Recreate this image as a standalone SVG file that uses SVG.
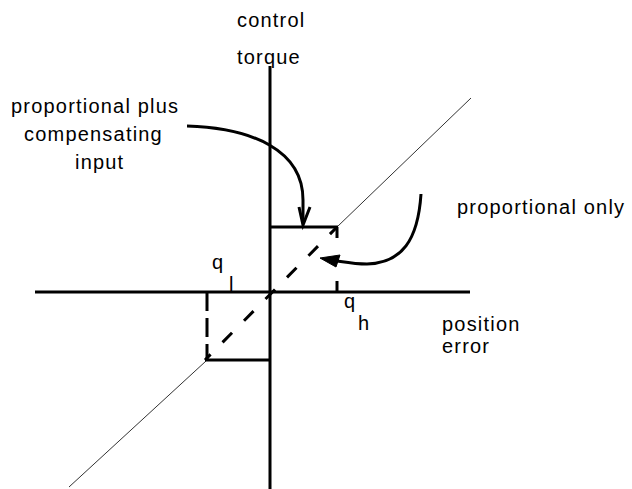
<svg xmlns="http://www.w3.org/2000/svg" width="632" height="489" viewBox="0 0 632 489">
<style>
.t{font-family:"Liberation Sans",Arial,sans-serif;font-size:20px;letter-spacing:1.2px;fill:#000}
.thick{stroke:#000;stroke-width:3;fill:none}
.thin{stroke:#333;stroke-width:1;fill:none}
</style>
<rect width="632" height="489" fill="#fff"/>
<g id="axes">
<line class="thick" x1="270" y1="66" x2="270" y2="489"/>
<line class="thick" x1="35" y1="292" x2="470" y2="292"/>
</g>
<g id="proportional-line">
<line class="thin" x1="337" y1="227" x2="471" y2="98"/>
<line class="thin" x1="206" y1="361" x2="69" y2="487"/>
<line class="thick" x1="337" y1="227" x2="205" y2="360" stroke-dasharray="13.5 17" stroke-dashoffset="3.5"/>
</g>
<g id="compensating-box">
<line class="thick" x1="270" y1="227" x2="338" y2="227"/>
<line class="thick" x1="337" y1="227" x2="337" y2="238"/>
<line class="thick" x1="337" y1="281" x2="337" y2="292"/>
<line class="thick" x1="205" y1="360" x2="270" y2="360"/>
<line class="thick" x1="207" y1="292" x2="207" y2="360" stroke-dasharray="19 7"/>
</g>
<g id="labels">
<text class="t" x="237" y="27">control</text>
<text class="t" x="237" y="64">torque</text>
<text class="t" x="11" y="113">proportional plus</text>
<text class="t" x="24" y="141">compensating</text>
<text class="t" x="75" y="169">input</text>
<text class="t" x="457" y="214">proportional only</text>
<text class="t" x="442" y="331">position</text>
<text class="t" x="442" y="353">error</text>
<text class="t" x="212" y="269">q</text>
<text class="t" x="229" y="291">l</text>
<text class="t" x="344" y="308">q</text>
<text class="t" x="358" y="330">h</text>
</g>
<g id="connectors">
<path class="thick" d="M187,126 C252,128 303,150 303,200 L303,222"/>
<path class="thick" d="M299,207 L303,225 L310,207"/>
<path class="thick" d="M421,194 C418,240 402,263 367,264 C352,264 340,261 330,260"/>
<path d="M320,258 L340,255 L336,267 Z" fill="#000" stroke="#000" stroke-width="1"/>
</g>
</svg>
